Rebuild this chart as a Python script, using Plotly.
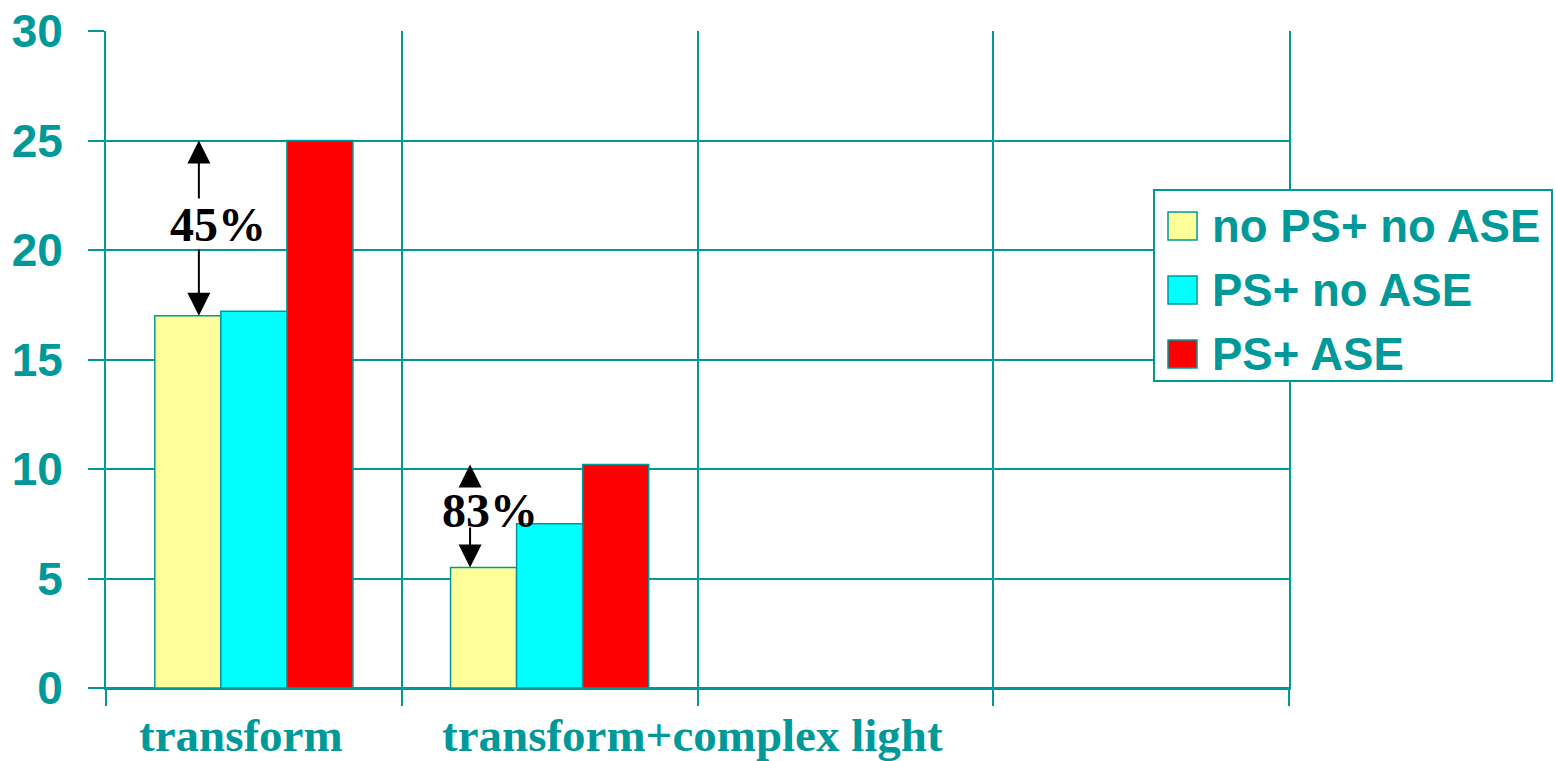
import plotly.graph_objects as go

# ---- data ----
categories = ["transform", "transform+complex light", " ", "  "]
series_names = ["no PS+ no ASE", "PS+ no ASE", "PS+ ASE"]
series_colors = ["#FFFF99", "#00FFFF", "#FF0000"]
no_ps_no_ase = [17.0, 5.5]
ps_no_ase = [17.2, 7.5]
ps_ase = [25.0, 10.2]
y_tick_vals = [0, 5, 10, 15, 20, 25, 30]
gain_labels = ["45%", "83%"]

# ---- styling / layout constants ----
TEAL = "#009999"
W, H = 1556, 761
L, R, T, B = 106, 1289, 31, 688


def px_x(px):
    return (px - L) / (R - L)


def px_y(py):
    return (B - py) / (B - T)


series_values = [no_ps_no_ase, ps_no_ase, ps_ase]

fig = go.Figure()
for name, color, vals in zip(series_names, series_colors, series_values):
    fig.add_trace(go.Bar(
        x=categories[:len(vals)], y=vals, name=name,
        marker=dict(color=color, line=dict(color=TEAL, width=1.5)),
        showlegend=False,
    ))

annotations = []
shapes = []

# x category labels (left-shifted as in the original)
label_xshift = [-117, -110, 0, 0]
for i, cat in enumerate(categories):
    if cat.strip():
        annotations.append(dict(
            x=i, xref="x", y=0, yref="y", yanchor="top", xanchor="left",
            xshift=label_xshift[i], yshift=-19, showarrow=False, text=cat,
            font=dict(family="Liberation Serif", size=47, color=TEAL, weight="bold"),
        ))

# gain arrows & labels
arrow_x = [-0.186, 0.731]
label_x = [-0.12, 0.797]
label_y_px = [224, 510]
upper_tail_px = [200, 488]
lower_tail_px = [248, 526]
for i, lab in enumerate(gain_labels):
    lo = no_ps_no_ase[i]
    hi = ps_ase[i]
    up_tail = (B - upper_tail_px[i]) / (B - T) * 30
    low_tail = (B - lower_tail_px[i]) / (B - T) * 30
    for head, tail in ((hi, up_tail), (lo, low_tail)):
        annotations.append(dict(
            x=arrow_x[i], y=head, xref="x", yref="y",
            ax=arrow_x[i], ay=tail, axref="x", ayref="y",
            text="", showarrow=True, arrowhead=2, arrowsize=2.3,
            arrowwidth=2, arrowcolor="black",
        ))
    annotations.append(dict(
        x=label_x[i], xref="x", y=(B - label_y_px[i]) / (B - T) * 30, yref="y",
        text=lab, showarrow=False, xanchor="center", yanchor="middle",
        font=dict(family="Liberation Serif", size=48, color="black", weight="bold"),
    ))

# manual legend
shapes.append(dict(type="rect", xref="paper", yref="paper", layer="above",
                   x0=px_x(1154), x1=px_x(1552), y0=px_y(381), y1=px_y(190),
                   line=dict(color=TEAL, width=2), fillcolor="white"))
row_centers = [226, 290, 354]
for name, color, cy in zip(series_names, series_colors, row_centers):
    shapes.append(dict(type="rect", xref="paper", yref="paper", layer="above",
                       x0=px_x(1168), x1=px_x(1197), y0=px_y(cy + 14), y1=px_y(cy - 14),
                       line=dict(color=TEAL, width=1.5), fillcolor=color))
    annotations.append(dict(
        x=px_x(1210), y=px_y(cy), xref="paper", yref="paper",
        xanchor="left", yanchor="middle", showarrow=False, text=name,
        font=dict(family="Liberation Sans", size=45.5, color=TEAL, weight="bold"),
    ))

fig.update_layout(
    width=W, height=H,
    margin=dict(l=L, r=W - R, t=T, b=H - B, autoexpand=False),
    paper_bgcolor="white", plot_bgcolor="white",
    barmode="group", bargap=0.33, bargroupgap=0,
    annotations=annotations, shapes=shapes,
    showlegend=False,
)
fig.update_xaxes(
    type="category", categoryorder="array", categoryarray=categories,
    range=[-0.5, len(categories) - 0.5],
    tickson="boundaries", ticks="outside", ticklen=16, tickwidth=2, tickcolor=TEAL,
    showgrid=True, gridcolor=TEAL, gridwidth=2,
    showticklabels=False, showline=True, linecolor=TEAL, linewidth=2,
)
fig.update_yaxes(
    range=[0, 30], tickvals=y_tick_vals, ticks="outside", ticklen=16, tickwidth=2,
    tickcolor=TEAL, showgrid=True, gridcolor=TEAL, gridwidth=2,
    zeroline=True, zerolinecolor=TEAL, zerolinewidth=3,
    showline=True, linecolor=TEAL, linewidth=2, mirror=True,
    ticklabelstandoff=16,
    tickfont=dict(family="Liberation Sans", size=46, color=TEAL, weight="bold"),
)

fig.write_html("out.html")
